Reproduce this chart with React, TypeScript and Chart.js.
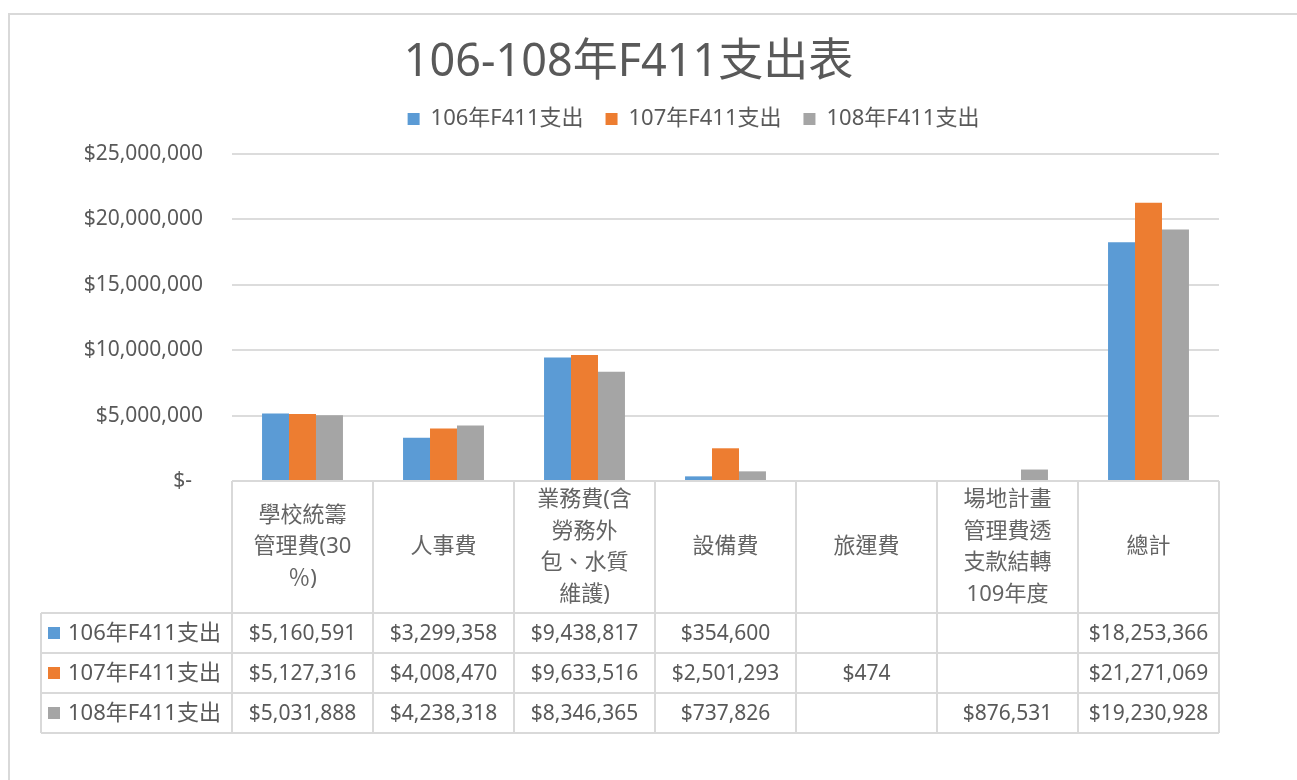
import { useEffect, useRef } from "react";
import { Chart, registerables } from "chart.js";

Chart.register(...registerables);

const FAMILY = "'Noto Sans', 'Noto Sans CJK TC', sans-serif";
const TEXT = "#595959";

const chartTitle = "106-108年F411支出表";
const categoryLines: string[][] = [
  ["學校統籌", "管理費(30", "％)"],
  ["人事費"],
  ["業務費(含", "勞務外", "包、水質", "維護)"],
  ["設備費"],
  ["旅運費"],
  ["場地計畫", "管理費透", "支款結轉", "109年度"],
  ["總計"],
];
const categories = categoryLines.map((l) => l.join(""));
const seriesNames = ["106年F411支出", "107年F411支出", "108年F411支出"];
const seriesColors = ["#5B9BD5", "#ED7D31", "#A5A5A5"];
const values106: (number | null)[] = [5160591, 3299358, 9438817, 354600, null, null, 18253366];
const values107: (number | null)[] = [5127316, 4008470, 9633516, 2501293, 474, null, 21271069];
const values108: (number | null)[] = [5031888, 4238318, 8346365, 737826, null, 876531, 19230928];
const seriesValues = [values106, values107, values108];
const yMax = 25000000;
const yStep = 5000000;

const money = (v: number) => "$" + Math.round(v).toLocaleString("en-US");

const placePlugin = {
  id: "placeBoxes",
  afterLayout(chart: any) {
    const t = chart.titleBlock;
    if (t) {
      const w = t.right - t.left;
      const h = t.bottom - t.top;
      t.left = 628.5 - w / 2;
      t.right = t.left + w;
      t.top = 63 - h / 2;
      t.bottom = t.top + h;
    }
    const l = chart.legend;
    if (l) {
      const w = l.right - l.left;
      const h = l.bottom - l.top;
      l.left = 693.5 - w / 2;
      l.right = l.left + w;
      l.top = 119 - 33;
      l.bottom = l.top + h;
    }
  },
};

const tablePlugin = {
  id: "dataTable",
  afterDraw(chart: any) {
    const { ctx, chartArea } = chart;
    const xs = chart.scales.x;
    const n = categories.length;
    const colW = (chartArea.right - chartArea.left) / n;
    const left0 = 41;
    const headTop = Math.round(chartArea.bottom);
    const headH = 132;
    const rowH = 40;
    const rowsTop = headTop + headH;
    const bottom = rowsTop + rowH * seriesNames.length;
    ctx.save();
    ctx.strokeStyle = "#d9d9d9";
    ctx.lineWidth = 2;
    ctx.beginPath();
    ctx.moveTo(chartArea.left, headTop);
    ctx.lineTo(chartArea.right, headTop);
    for (let r = 0; r <= seriesNames.length; r++) {
      const y = rowsTop + r * rowH;
      ctx.moveTo(left0, y);
      ctx.lineTo(chartArea.right, y);
    }
    for (let i = 0; i <= n; i++) {
      const x = Math.round(chartArea.left + i * colW);
      ctx.moveTo(x, headTop);
      ctx.lineTo(x, bottom);
    }
    ctx.moveTo(left0, rowsTop);
    ctx.lineTo(left0, bottom);
    ctx.stroke();

    ctx.textBaseline = "middle";
    // header labels
    ctx.fillStyle = "#646464";
    ctx.font = `22px ${FAMILY}`;
    ctx.textAlign = "center";
    const lineH = 31.5;
    const headMid = headTop + headH / 2;
    categoryLines.forEach((lines, i) => {
      const cx = xs.getPixelForValue(i);
      const start = headMid - ((lines.length - 1) * lineH) / 2;
      lines.forEach((s, j) => ctx.fillText(s, cx, start + j * lineH));
    });
    // rows
    seriesNames.forEach((name, r) => {
      const cy = rowsTop + r * rowH + rowH / 2;
      ctx.fillStyle = seriesColors[r];
      ctx.fillRect(48, cy - 6, 12, 12);
      ctx.fillStyle = TEXT;
      ctx.font = `22px ${FAMILY}`;
      ctx.textAlign = "left";
      ctx.fillText(name, 68, cy + 1);
      ctx.font = `21px ${FAMILY}`;
      ctx.textAlign = "center";
      seriesValues[r].forEach((v, i) => {
        if (v === null || v === undefined) return;
        ctx.fillText(money(v), xs.getPixelForValue(i), cy + 1);
      });
    });
    ctx.restore();
  },
};

export default function App() {
  const ref = useRef<HTMLCanvasElement | null>(null);
  useEffect(() => {
    if (!ref.current) return;
    Chart.defaults.font.family = FAMILY;
    const chart = new Chart(ref.current, {
      type: "bar",
      data: {
        labels: categories,
        datasets: seriesNames.map((name, i) => ({
          label: name,
          data: seriesValues[i],
          backgroundColor: seriesColors[i],
          borderColor: seriesColors[i],
          borderWidth: 0,
          categoryPercentage: 0.574,
          barPercentage: 1,
        })),
      },
      options: {
        responsive: false,
        animation: false,
        devicePixelRatio: 1,
        layout: { padding: { left: 0, right: 78, top: 46, bottom: 299 } },
        plugins: {
          title: {
            display: true,
            text: chartTitle,
            color: TEXT,
            font: { size: 45, weight: "normal", family: FAMILY, lineHeight: 1.2 },
            padding: 0,
          },
          legend: {
            display: true,
            position: "top",
            align: "center",
            labels: {
              boxWidth: 12,
              boxHeight: 12,
              padding: 22,
              color: TEXT,
              font: { size: 22, family: FAMILY },
            },
          },
          tooltip: { enabled: false },
        },
        scales: {
          x: { display: false },
          y: {
            min: 0,
            max: yMax,
            afterFit: (s: any) => {
              s.width = 232;
            },
            border: { display: false },
            grid: { color: "#dcdcdc", lineWidth: 2, drawTicks: false },
            ticks: {
              stepSize: yStep,
              padding: 29,
              color: TEXT,
              font: { size: 21, family: FAMILY },
              callback: (v: any) => (Number(v) === 0 ? "$-  " : money(Number(v))),
            },
          },
        },
      },
      plugins: [placePlugin, tablePlugin],
    });
    return () => chart.destroy();
  }, []);
  return (
    <div
      style={{
        position: "fixed",
        left: 0,
        top: 0,
        width: 1297,
        height: 780,
        overflow: "hidden",
        background: "#fff",
      }}
    >
      <div
        style={{
          position: "absolute",
          left: 8,
          top: 13,
          width: 1400,
          height: 900,
          border: "2px solid #d9d9d9",
        }}
      />
      <canvas
        ref={ref}
        width={1297}
        height={780}
        style={{ position: "absolute", left: 0, top: 0, width: 1297, height: 780 }}
      />
    </div>
  );
}
